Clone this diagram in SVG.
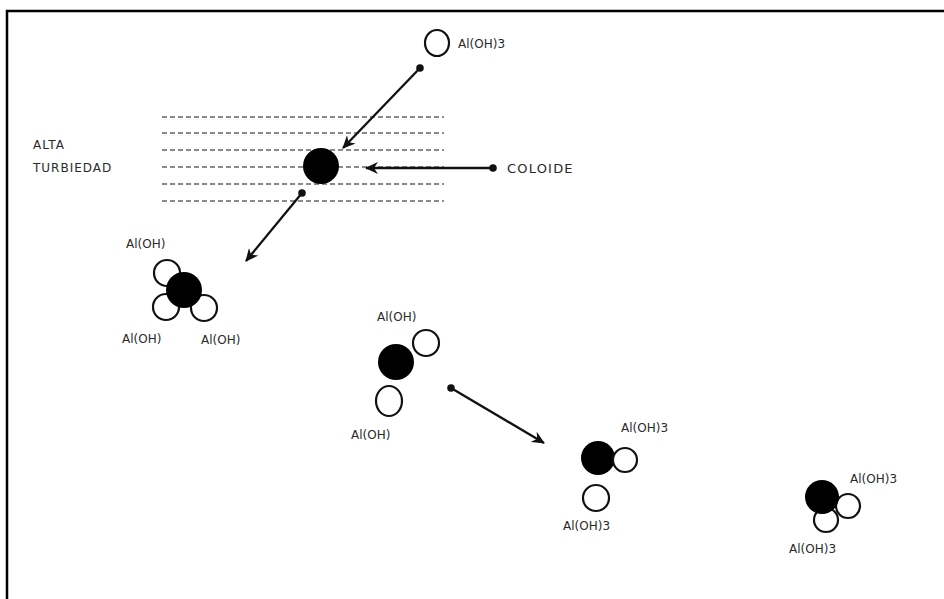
<svg xmlns="http://www.w3.org/2000/svg" width="944" height="599" viewBox="0 0 944 599">
<defs>
<style>
text{font-family:"DejaVu Sans","Liberation Sans",sans-serif;font-size:12px;fill:#2a2a2a}
.caps{letter-spacing:1px}
.w{fill:#fff;stroke:#111;stroke-width:2.2}
.b{fill:#000}
.dash{stroke:#666;stroke-width:1.3;stroke-dasharray:5 3;fill:none}
.arr{stroke:#111;stroke-width:2.3;fill:none;marker-end:url(#ah);marker-start:url(#dot)}
</style>
<marker id="ah" viewBox="0 0 14 12" refX="12" refY="6" markerWidth="14" markerHeight="12" markerUnits="userSpaceOnUse" orient="auto">
<path d="M0,0 L13,6 L0,12 L4,6 Z" fill="#111"/>
</marker>
<marker id="dot" viewBox="0 0 8 8" refX="4" refY="4" markerWidth="8" markerHeight="8" markerUnits="userSpaceOnUse">
<circle cx="4" cy="4" r="3.8" fill="#111"/>
</marker>
</defs>
<rect width="944" height="599" fill="#fff"/>
<path d="M7,599 V11 H944" fill="none" stroke="#000" stroke-width="2.5"/>

<g id="turbidity">
<line class="dash" x1="162" y1="117" x2="444" y2="117"/>
<line class="dash" x1="162" y1="133" x2="444" y2="133"/>
<line class="dash" x1="162" y1="150" x2="444" y2="150"/>
<line class="dash" x1="162" y1="167" x2="444" y2="167"/>
<line class="dash" x1="162" y1="184" x2="444" y2="184"/>
<line class="dash" x1="162" y1="201" x2="444" y2="201"/>
<text class="caps" x="33" y="149">ALTA</text>
<text class="caps" x="33" y="172">TURBIEDAD</text>
</g>

<g id="aloh3-top">
<ellipse class="w" cx="437" cy="43" rx="12" ry="13"/>
<text x="458" y="48">Al(OH)3</text>
</g>

<g id="colloid">
<circle class="b" cx="321" cy="166" r="18"/>
<text x="507" y="173" style="font-size:13px;letter-spacing:1.2px">COLOIDE</text>
</g>

<g id="cluster1">
<circle class="w" cx="167" cy="273" r="13"/>
<circle class="w" cx="166" cy="307" r="13"/>
<circle class="w" cx="204" cy="308" r="13"/>
<circle class="b" cx="184" cy="290" r="18"/>
<text x="126" y="248">Al(OH)</text>
<text x="122" y="343">Al(OH)</text>
<text x="201" y="344">Al(OH)</text>
</g>

<g id="cluster2">
<circle class="w" cx="426" cy="343" r="13"/>
<circle class="b" cx="396" cy="362" r="18"/>
<ellipse class="w" cx="389" cy="401" rx="13" ry="15"/>
<text x="377" y="321">Al(OH)</text>
<text x="351" y="439">Al(OH)</text>
</g>

<g id="cluster3">
<circle class="b" cx="598" cy="458" r="17"/>
<circle class="w" cx="625" cy="460" r="12"/>
<circle class="w" cx="596" cy="498" r="13"/>
<text x="621" y="432">Al(OH)3</text>
<text x="563" y="530">Al(OH)3</text>
</g>

<g id="cluster4">
<circle class="w" cx="848" cy="506" r="12"/>
<circle class="w" cx="826" cy="520" r="12"/>
<circle class="b" cx="822" cy="497" r="17"/>
<text x="850" y="483">Al(OH)3</text>
<text x="789" y="553">Al(OH)3</text>
</g>

<g id="connectors">
<line class="arr" x1="420" y1="68" x2="343" y2="148"/>
<line class="arr" x1="493" y1="168" x2="366" y2="168"/>
<line class="arr" x1="302" y1="193" x2="246" y2="261"/>
<line class="arr" x1="451" y1="388" x2="544" y2="443"/>
</g>
</svg>
